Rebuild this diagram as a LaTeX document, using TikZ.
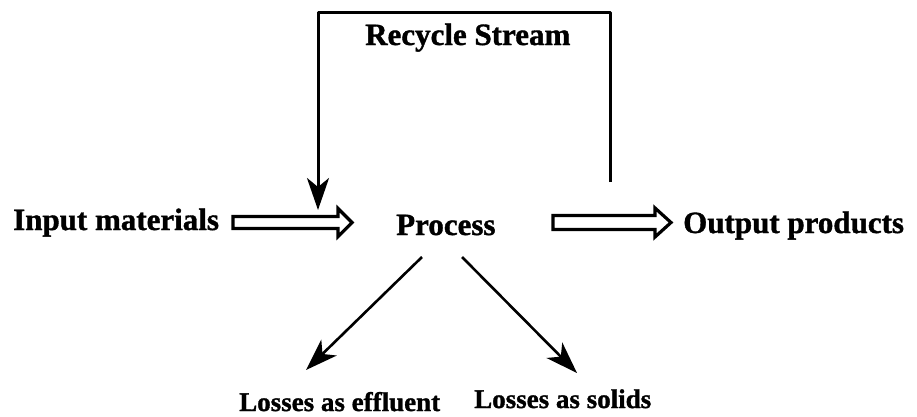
\documentclass[tikz,border=0pt]{standalone}
\usepackage{fontspec}
\setmainfont{Liberation Serif}[BoldFeatures={FakeBold=1.2}]
\usetikzlibrary{arrows.meta}
\tikzset{
  lbl/.style={font=\fontsize{31}{33}\selectfont\bfseries, inner sep=0pt, anchor=base west},
  smalllbl/.style={font=\fontsize{27}{29}\selectfont\bfseries, inner sep=0pt, anchor=base west},
  flow/.style={line width=3pt, line join=round},
  hollow/.style={line width=3.2pt, line join=miter, fill=white},
  barb/.style={-{Stealth[length=32pt,width=22pt,inset=9pt]}}
}
% outlined block arrow: start x, head base x, tip x, centre y, shaft half height, head half height
\newcommand\holarrow[6]{%
  \draw[hollow] (#1,#4-#5) -- (#2,#4-#5) -- (#2,#4-#6) -- (#3,#4) -- (#2,#4+#6)
    -- (#2,#4+#5) -- (#1,#4+#5) -- cycle;}
\begin{document}
\begin{tikzpicture}[x=1pt,y=-1pt]
  \useasboundingbox (0,0) rectangle (917,416);

  % labels
  \node[lbl] (input) at (13,230) {Input materials};
  \node[lbl] (process) at (396,235) {Process};
  \node[lbl] (output) at (683,233) {Output products};
  \node[lbl] (recycle) at (365,45) {Recycle Stream};
  \node[smalllbl] (effluent) at (239,411) {Losses as effluent};
  \node[smalllbl] (solids) at (474,408) {Losses as solids};

  % block arrows into and out of the process
  \holarrow{233}{338}{352}{222.5}{6}{14}
  \holarrow{553}{655}{671}{222.5}{7}{14.5}

  % recycle loop
  \coordinate (recStart) at (610,182);
  \coordinate (recTopR) at (610,12);
  \coordinate (recTopL) at (318,12);
  \coordinate (recEnd) at (318,210);
  \draw[flow, barb] (recStart) -- (recTopR) -- (recTopL) -- (recEnd);

  % losses
  \coordinate (lossL) at (422,257);
  \coordinate (lossR) at (462,257);
  \coordinate (effTip) at (306,370);
  \coordinate (solTip) at (577,373);
  \draw[flow, line width=2.6pt, barb] (lossL) -- (effTip);
  \draw[flow, line width=2.6pt, barb] (lossR) -- (solTip);
\end{tikzpicture}
\end{document}
